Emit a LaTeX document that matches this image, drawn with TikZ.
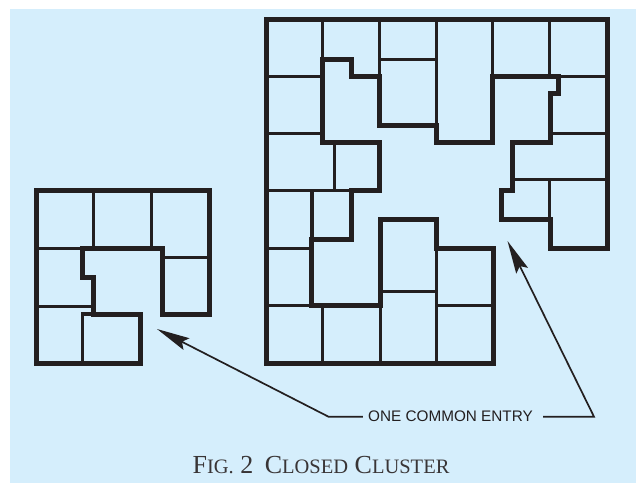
\documentclass[tikz,border=0pt]{standalone}
\usepackage{fontspec}
\setmainfont{Liberation Serif}
\setsansfont{Liberation Sans}
\usetikzlibrary{arrows.meta}
\definecolor{panelblue}{HTML}{D5EEFC}
\definecolor{wallink}{HTML}{231F20}
\newcommand{\capbig}[1]{{\fontsize{26}{26}\selectfont #1}}
\newcommand{\caplow}[1]{{\fontsize{20.5}{20.5}\selectfont #1}}
\tikzset{
  outerwall/.style={draw=wallink,line width=5pt,miter limit=10},
  innerwall/.style={draw=wallink,line width=3pt},
  pointer/.style={draw=wallink,line width=1.7pt}
}
\begin{document}
\begin{tikzpicture}[x=1pt,y=-1pt,>={Stealth[length=33pt,width=13pt,inset=5pt]}]
  \useasboundingbox (0,0) rectangle (636,483);
  \fill[panelblue] (10,9) rectangle (636,483);

  % small cluster
  \draw[innerwall] (93,190) -- (93,248);
  \draw[innerwall] (151,190) -- (151,248);
  \draw[innerwall] (36,248) -- (82,248);
  \draw[innerwall] (162,257) -- (209,257);
  \draw[innerwall] (36,306) -- (93,306);
  \draw[innerwall] (82,314) -- (82,363);
  \draw[innerwall,line width=4pt] (81,314) -- (93.5,314);
  \draw[outerwall] (36,190.5) -- (209,190.5) -- (209,314) -- (162,314) -- (162,248)
    -- (82,248) -- (82,277) -- (93.5,277) -- (93.5,314) -- (140,314) -- (140,363)
    -- (36,363) -- cycle;

  % large cluster
  \draw[innerwall] (322,19) -- (322,59);
  \draw[innerwall] (379.5,19) -- (379.5,76);
  \draw[innerwall] (436,19) -- (436,125);
  \draw[innerwall] (380,59) -- (436,59);
  \draw[innerwall] (492.5,19) -- (492.5,76);
  \draw[innerwall] (549.5,19) -- (549.5,76);
  \draw[innerwall] (266,76) -- (322,76);
  \draw[innerwall] (266,133) -- (322,133);
  \draw[innerwall] (334,142) -- (334,190);
  \draw[innerwall] (266,190) -- (351,190);
  \draw[innerwall,line width=4pt] (311.5,190) -- (311.5,239);
  \draw[innerwall] (266,248) -- (311.5,248);
  \draw[innerwall] (266,305) -- (311.5,305);
  \draw[innerwall] (322.5,305) -- (322.5,363);
  \draw[innerwall] (380,305) -- (380,363);
  \draw[innerwall] (380,291) -- (436,291);
  \draw[innerwall] (436,248) -- (436,363);
  \draw[innerwall] (436,305) -- (493,305);
  \draw[innerwall] (558,76) -- (607,76);
  \draw[innerwall] (550,133) -- (607,133);
  \draw[innerwall] (512.5,179) -- (607,179);
  \draw[innerwall] (549.5,179) -- (549.5,219);
  \draw[outerwall] (266,19) -- (607,19) -- (607,248) -- (550,248) -- (550,219)
    -- (501.5,219) -- (501.5,190) -- (512.5,190) -- (512.5,142) -- (550,142)
    -- (550,93) -- (558,93) -- (558,76) -- (492.5,76) -- (492.5,142) -- (436,142)
    -- (436,125) -- (379,125) -- (379,76) -- (351,76) -- (351,59) -- (322.5,59)
    -- (322.5,142) -- (379.5,142) -- (379.5,190) -- (351.5,190) -- (351.5,239)
    -- (311.5,239) -- (311.5,305) -- (380,305) -- (380,219) -- (436,219)
    -- (436,248) -- (493,248) -- (493,363) -- (266,363) -- cycle;

  % label and arrows
  \node[inner xsep=5pt,inner ysep=0pt,font=\sffamily\fontsize{15.3}{15.3}\selectfont,text=wallink] (entry) at (450.5,416.7) {ONE COMMON ENTRY};
  \coordinate (leftbend) at (328.5,416.7);
  \coordinate (lefttip) at (157,329);
  \coordinate (rightbend) at (594,416.7);
  \coordinate (righttip) at (507.5,241);
  \draw[pointer,->] (entry.west) -- (leftbend) -- (lefttip);
  \draw[pointer,->,shorten <=5pt] (entry.east) -- (rightbend) -- (righttip);

  \node[anchor=base,inner sep=0pt,text=wallink!90,font=\fontsize{26}{26}\selectfont] (caption) at (321,473.5)
    {\capbig{F}\caplow{IG.} \capbig{2}\hspace{5pt} \capbig{C}\caplow{LOSED} \capbig{C}\caplow{LUSTER}};
\end{tikzpicture}
\end{document}
